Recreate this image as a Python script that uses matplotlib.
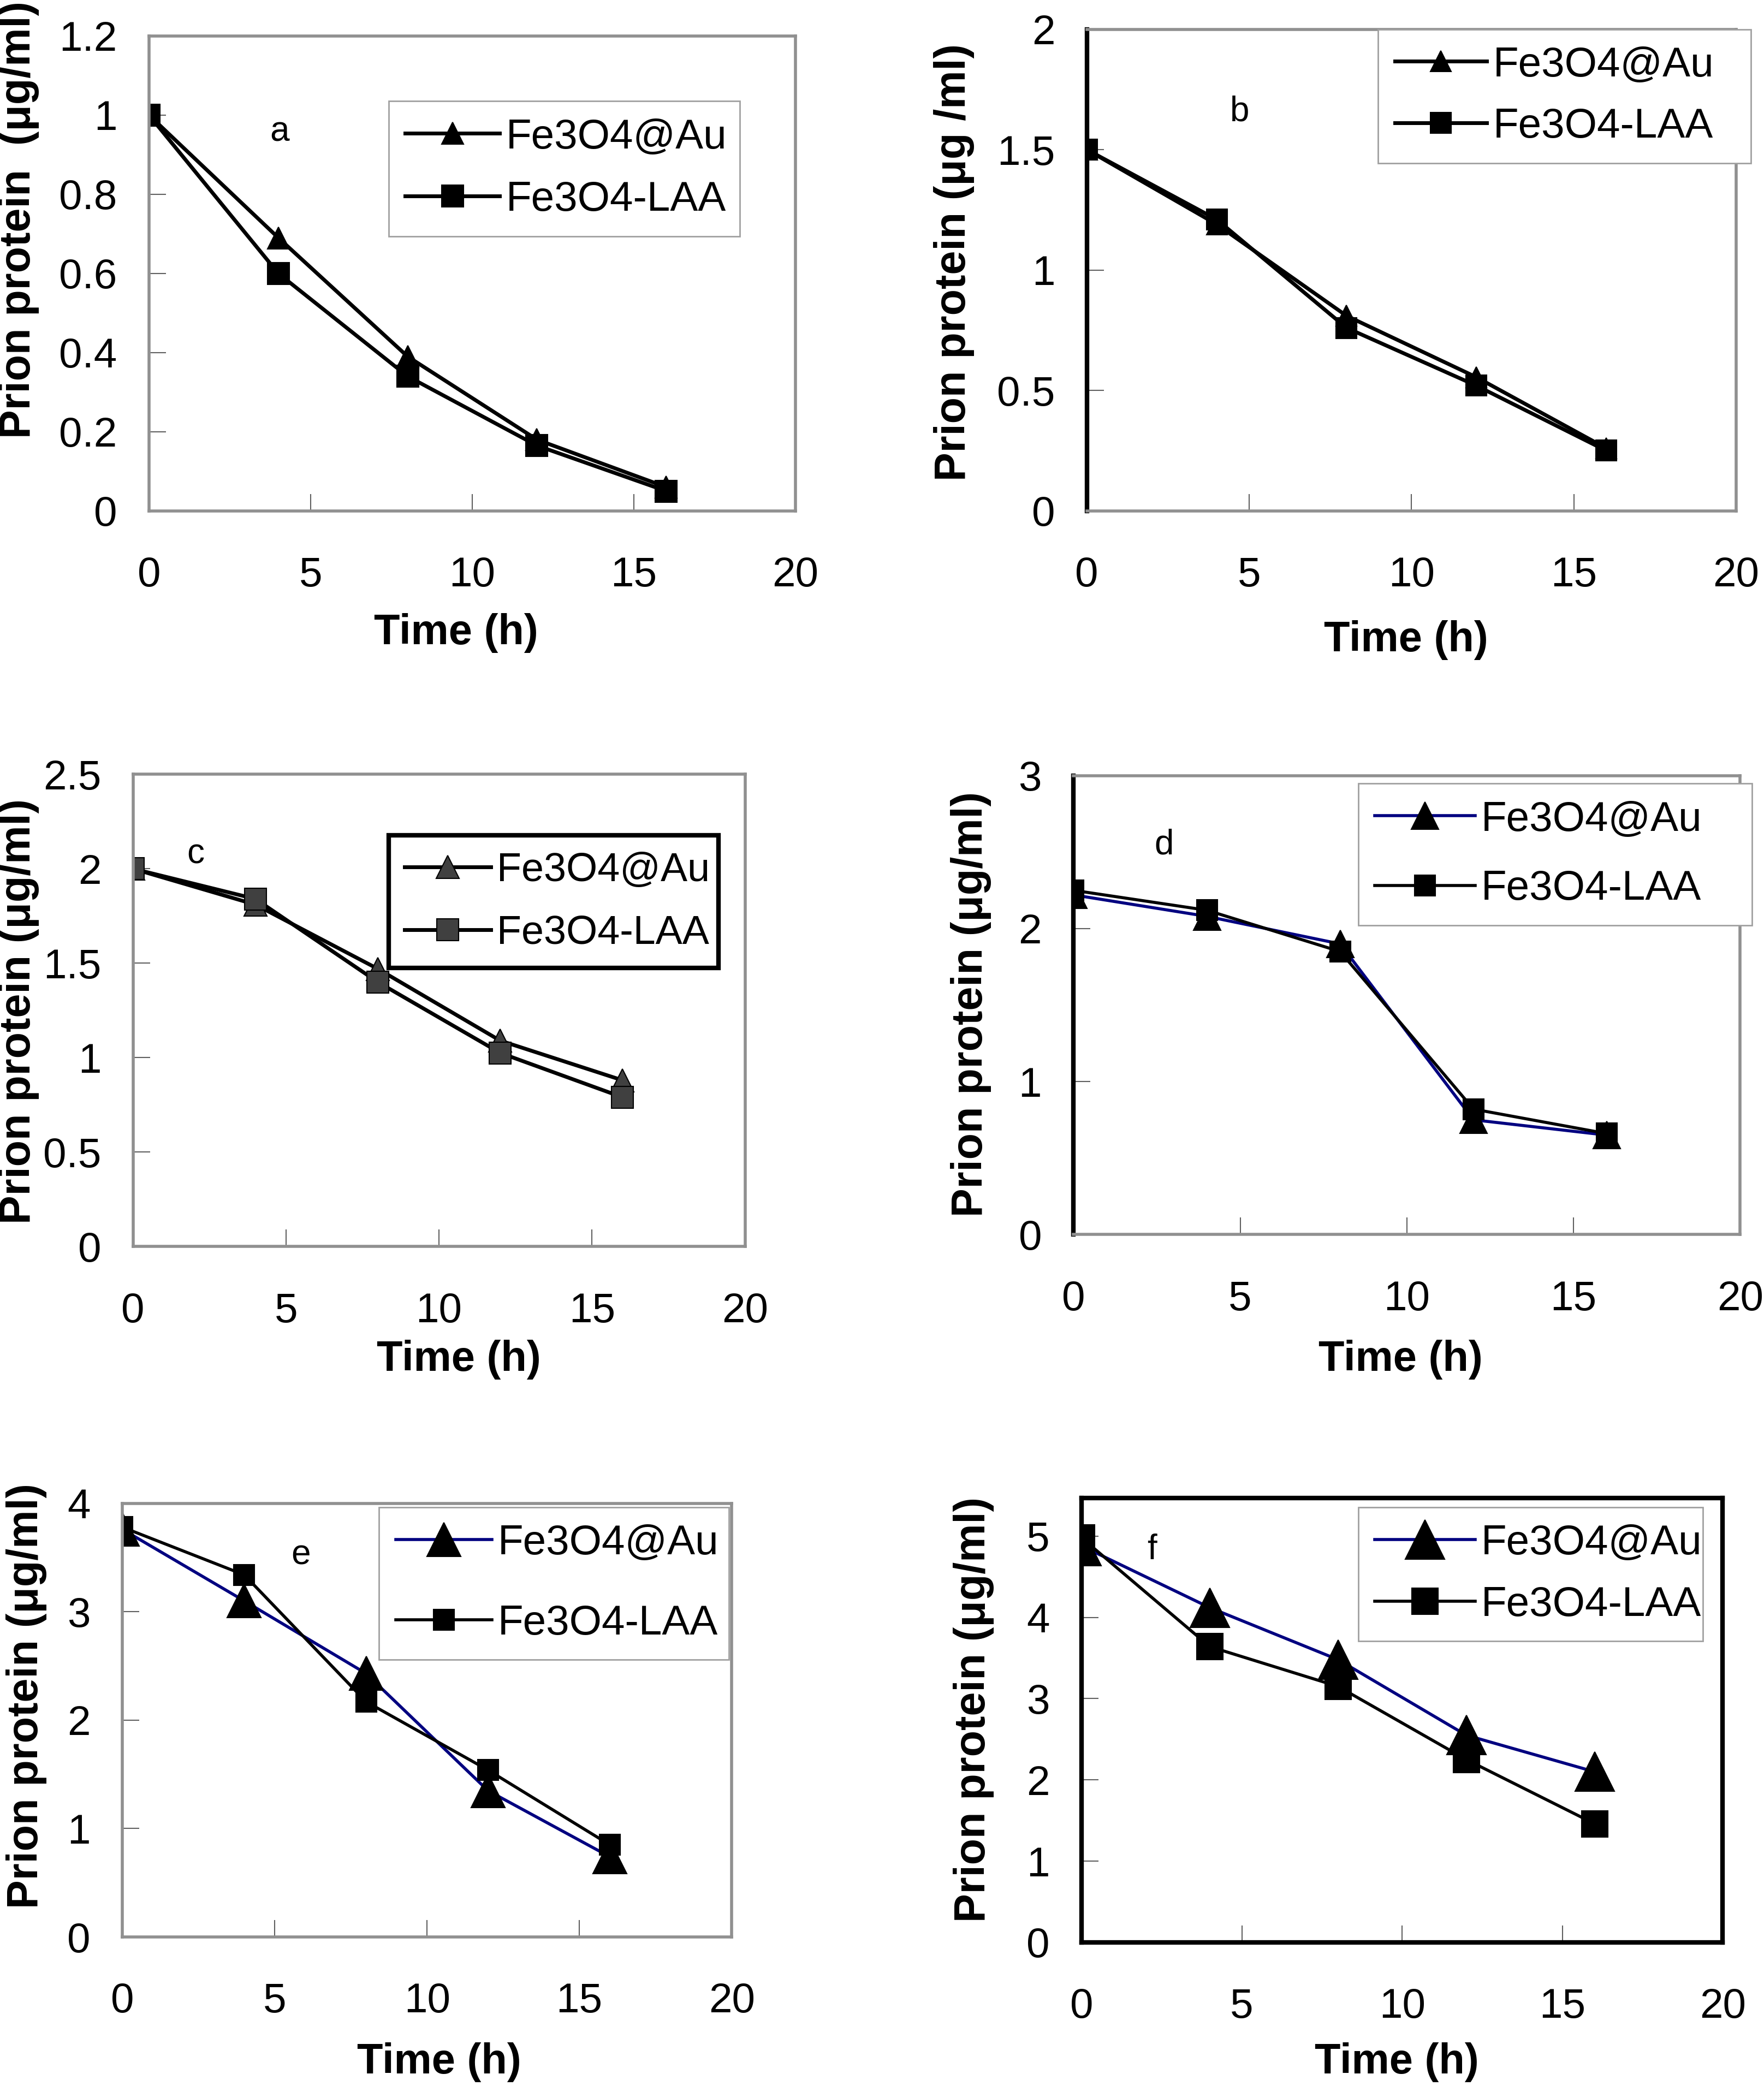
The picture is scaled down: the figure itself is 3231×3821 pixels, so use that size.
import matplotlib.pyplot as plt
from matplotlib.ticker import MultipleLocator, FuncFormatter

plt.rcParams['font.family'] = ['Liberation Sans', 'DejaVu Sans']

# sampling times (h)
time_h = [0, 4, 8, 12, 16]

# prion protein (ug/ml)
au_a = [1.0, 0.69, 0.39, 0.18, 0.06]
laa_a = [1.0, 0.60, 0.34, 0.165, 0.05]
au_b = [1.5, 1.19, 0.81, 0.555, 0.26]
laa_b = [1.5, 1.21, 0.76, 0.52, 0.25]
au_c = [2.0, 1.81, 1.47, 1.09, 0.88]
laa_c = [2.0, 1.84, 1.40, 1.025, 0.79]
au_d = [2.22, 2.08, 1.90, 0.75, 0.65]
laa_d = [2.25, 2.12, 1.85, 0.82, 0.66]
au_e = [3.76, 3.10, 2.43, 1.35, 0.74]
laa_e = [3.78, 3.34, 2.17, 1.54, 0.85]
au_f = [4.88, 4.12, 3.48, 2.55, 2.10]
laa_f = [4.98, 3.64, 3.15, 2.25, 1.46]

letters = ['a', 'b', 'c', 'd', 'e', 'f']
ylabels = ['Prion protein  (\u03bcg/ml)', 'Prion protein (\u03bcg /ml)',
           'Prion protein (\u03bcg/ml)', 'Prion protein (\u03bcg/ml)',
           'Prion protein (\u03bcg/ml)', 'Prion protein (\u03bcg/ml)']
ymax = [1.2, 2, 2.5, 3, 4, 5.47]
ystep = [0.2, 0.5, 0.5, 1, 1, 1]

# layout measured on a 1326 x 1568 copy of the picture
W, H = 1326.0, 1568.0
panels = [
    dict(au=au_a, laa=laa_a, box=(112, 27, 598, 384), yl=(14, 165), xl=(343, 476),
         let=(210, 99), leg=(292, 76, 556, 175), ls=0.58, hl=2.27, lfs=55, au_col='black',
         face='black', left='gray', frame='gray', legedge='#a0a0a0', lw=5, ms_t=29, ms_s=29),
    dict(au=au_b, laa=laa_b, box=(817, 22, 1305, 384), yl=(717, 197), xl=(1057, 481),
         let=(932, 84), leg=(1036, 22, 1316, 116), ls=0.55, hl=2.2, lfs=55, au_col='black',
         face='black', left='black', frame='gray', legedge='#a0a0a0', lw=5, ms_t=28, ms_s=28),
    dict(au=au_c, laa=laa_c, box=(100, 582, 560, 937), yl=(14, 760), xl=(345, 1022),
         let=(147, 642), leg=(292, 628, 540, 723), ls=0.62, hl=2.15, lfs=53, au_col='black',
         face='#404040', left='gray', frame='gray', legedge='black', lw=5, ms_t=30, ms_s=29),
    dict(au=au_d, laa=laa_d, box=(807, 583, 1308, 928), yl=(730, 755), xl=(1053, 1022),
         let=(875, 635), leg=(1021, 589, 1317, 693), ls=0.74, hl=2.4, lfs=55, au_col='#000080',
         face='black', left='black', frame='gray', legedge='#a0a0a0', lw=4, ms_t=36, ms_s=27),
    dict(au=au_e, laa=laa_e, box=(92, 1130, 550, 1456), yl=(20, 1275), xl=(330, 1550),
         let=(226, 1169), leg=(285, 1133, 548, 1254), ls=1.0, hl=2.3, lfs=55, au_col='#000080',
         face='black', left='gray', frame='gray', legedge='#a0a0a0', lw=4, ms_t=44, ms_s=27),
    dict(au=au_f, laa=laa_f, box=(813, 1126, 1295, 1460), yl=(732, 1285), xl=(1050, 1550),
         let=(866, 1165), leg=(1021, 1133, 1280, 1233), ls=0.55, hl=2.4, lfs=55, au_col='#000080',
         face='black', left='black', frame='black', legedge='#a0a0a0', lw=4, ms_t=52, ms_s=35),
]

fig = plt.figure(figsize=(32.31, 38.21), dpi=100)

for i, p in enumerate(panels):
    x0, y0, x1, y1 = p['box']
    ax = fig.add_axes([x0 / W, 1 - y1 / H, (x1 - x0) / W, (y1 - y0) / H])
    ax.plot(time_h, p['au'], color=p['au_col'], lw=p['lw'], marker='^',
            ms=p['ms_t'], mfc=p['face'], mec='black', mew=1.5, label='Fe3O4@Au')
    ax.plot(time_h, p['laa'], color='black', lw=p['lw'], marker='s',
            ms=p['ms_s'], mfc=p['face'], mec='black', mew=1.5, label='Fe3O4-LAA')
    ax.set_xlim(0, 20)
    ax.set_ylim(0, ymax[i])
    ax.xaxis.set_major_locator(MultipleLocator(5))
    ax.yaxis.set_major_locator(MultipleLocator(ystep[i]))
    ax.yaxis.set_major_formatter(FuncFormatter(lambda v, pos: f'{v:g}'))
    ax.tick_params(direction='in', length=22, width=1.5, colors='#606060',
                   labelcolor='black', labelsize=55)
    ax.tick_params(axis='x', pad=60)
    ax.tick_params(axis='y', pad=42)
    ax.tick_params(top=False, right=False)
    fw = 6 if p['frame'] == 'black' else 4
    for side in ['top', 'right', 'bottom']:
        ax.spines[side].set_color('#909090' if p['frame'] == 'gray' else 'black')
        ax.spines[side].set_linewidth(fw)
    ax.spines['left'].set_color('#909090' if p['left'] == 'gray' else 'black')
    ax.spines['left'].set_linewidth(4 if p['left'] == 'gray' else 6)

    fig.text(p['yl'][0] / W, 1 - p['yl'][1] / H, ylabels[i], rotation=90,
             fontsize=57, fontweight='bold', ha='center', va='center')
    fig.text(p['xl'][0] / W, 1 - p['xl'][1] / H, 'Time (h)',
             fontsize=56, fontweight='bold', ha='center', va='center')
    fig.text(p['let'][0] / W, 1 - p['let'][1] / H, letters[i],
             fontsize=46, ha='center', va='center')

    lx0, ly0, lx1, ly1 = p['leg']
    leg = ax.legend(loc='upper left', mode='expand',
                    bbox_to_anchor=(lx0 / W, 1 - ly1 / H, (lx1 - lx0) / W, (ly1 - ly0) / H),
                    bbox_transform=fig.transFigure, fontsize=p['lfs'], frameon=True,
                    fancybox=False, framealpha=1, edgecolor=p['legedge'],
                    handlelength=p['hl'], handletextpad=0.15, labelspacing=p['ls'],
                    borderpad=0.4, borderaxespad=0)
    leg.get_frame().set_linewidth(6 if p['legedge'] == 'black' else 2)

fig.savefig('out.png', dpi=100)
